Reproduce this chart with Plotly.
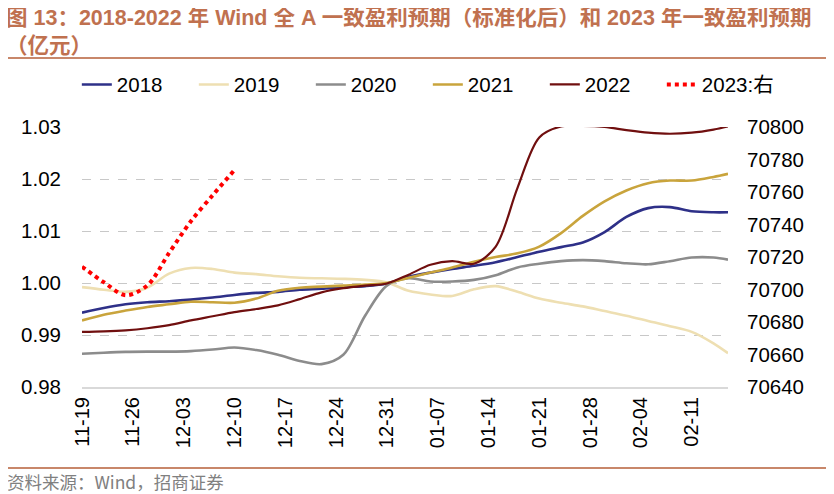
import plotly.graph_objects as go

# x positions are day offsets from 11-19 (one point every 3 days)
days = [0, 3, 6, 9, 12, 15, 18, 21, 24, 27, 30, 33, 36, 39, 42, 45, 48, 51, 54, 57,
        60, 63, 66, 69, 72, 75, 78, 81, 84, 87, 89]
tick_days = [0, 7, 14, 21, 28, 35, 42, 49, 56, 63, 70, 77, 84]
tick_labels = ["11-19", "11-26", "12-03", "12-10", "12-17", "12-24", "12-31",
               "01-07", "01-14", "01-21", "01-28", "02-04", "02-11"]

y2018 = [0.9943, 0.9952, 0.9959, 0.9963, 0.9965, 0.9968, 0.9972, 0.9977, 0.9981, 0.9983,
         0.9987, 0.9989, 0.9992, 0.9994, 0.9999, 1.0012, 1.0020, 1.0027, 1.0033, 1.0040,
         1.0050, 1.0060, 1.0069, 1.0078, 1.0098, 1.0127, 1.0144, 1.0146, 1.0138, 1.0136, 1.0136]
y2019 = [0.9992, 0.9987, 0.9983, 0.9991, 1.0018, 1.0029, 1.0027, 1.0020, 1.0017, 1.0013,
         1.0010, 1.0009, 1.0008, 1.0006, 1.0001, 0.9985, 0.9978, 0.9975, 0.9988, 0.9994,
         0.9983, 0.9970, 0.9962, 0.9955, 0.9946, 0.9937, 0.9927, 0.9917, 0.9906, 0.9884, 0.9865]
y2020 = [0.9864, 0.9866, 0.98675, 0.9868, 0.9868, 0.9869, 0.9872, 0.9876, 0.9871, 0.9862,
         0.9850, 0.9844, 0.9862, 0.9937, 0.9995, 1.0009, 1.0003, 1.0003, 1.0006, 1.0015,
         1.0030, 1.0037, 1.0042, 1.0044, 1.0042, 1.0038, 1.0036, 1.0042, 1.0049, 1.0049, 1.0045]
y2021 = [0.9928, 0.9939, 0.9947, 0.9954, 0.9959, 0.9964, 0.9963, 0.9962, 0.9970, 0.9985,
         0.9991, 0.9993, 0.9995, 0.9997, 1.0000, 1.0010, 1.0020, 1.0030, 1.0041, 1.0050,
         1.0057, 1.0070, 1.0096, 1.0129, 1.0157, 1.0178, 1.0192, 1.0197, 1.0197, 1.0204, 1.0210]
y2022 = [0.9906, 0.9907, 0.9909, 0.9913, 0.9919, 0.9928, 0.9936, 0.9944, 0.9950, 0.9957,
         0.9969, 0.9982, 0.9990, 0.9995, 0.9999, 1.0016, 1.0035, 1.0042, 1.0037, 1.0070,
         1.0183, 1.0280, 1.0301, 1.0302, 1.0300, 1.0294, 1.0289, 1.0287, 1.0289, 1.0295, 1.0301]

days2023 = [0, 3, 6, 9, 12, 15, 18, 21]
y2023 = [70714, 70704.5, 70696.5, 70702.5, 70722.5, 70742, 70758, 70773.5]

series = [
    ("2018", y2018, "#2E3088", 2.6),
    ("2019", y2019, "#EEDFB2", 2.6),
    ("2020", y2020, "#8C8C8C", 2.6),
    ("2021", y2021, "#C9A43C", 2.6),
    ("2022", y2022, "#700F0F", 2.2),
]

fig = go.Figure()
for name, ys, color, w in series:
    fig.add_trace(go.Scatter(x=days, y=ys, name=name, mode="lines",
                             line=dict(color=color, width=w, shape="spline", smoothing=0.9)))
fig.add_trace(go.Scatter(x=days2023, y=y2023, name="2023:右", mode="lines", yaxis="y2",
                         line=dict(color="#FF0000", width=4, dash="4px,4px",
                                   shape="spline", smoothing=0.9)))

title_color = "#C0714F"
rule_color = "#C8876A"
font_fam = "Liberation Sans, Arial, Noto Sans CJK SC, sans-serif"

fig.update_layout(
    width=826, height=486,
    margin=dict(l=74, r=106, t=119, b=107, autoexpand=False),
    paper_bgcolor="white", plot_bgcolor="white",
    font=dict(family=font_fam, color="#000000"),
    showlegend=True,
    legend=dict(orientation="h", x=-0.008, xanchor="left", y=1.163, yanchor="middle",
                font=dict(size=20.5, family=font_fam), entrywidth=72, entrywidthmode="pixels",
                bgcolor="rgba(0,0,0,0)"),
    xaxis=dict(range=[0, 89], tickmode="array", tickvals=tick_days, ticktext=tick_labels,
               tickangle=-90, tickfont=dict(size=20), showgrid=False, zeroline=False,
               showline=True, linecolor="#D9D9D9", linewidth=2, ticks=""),
    yaxis=dict(range=[0.98, 1.03], tickmode="array",
               tickvals=[0.98, 0.99, 1.00, 1.01, 1.02, 1.03],
               ticktext=["0.98", "0.99", "1.00", "1.01", "1.02", "1.03"],
               tickfont=dict(size=20.5), showgrid=True, gridcolor="#C8C8C8", griddash="dash",
               gridwidth=1, zeroline=False, showline=False, ticks="", ticklabelstandoff=20),
    yaxis2=dict(range=[70640, 70800], overlaying="y", side="right", dtick=20,
                tickfont=dict(size=20.5), showgrid=False, zeroline=False, showline=False,
                ticks="", tickformat="d", ticklabelstandoff=18),
    shapes=[
        dict(type="line", xref="paper", yref="paper", x0=-0.127, x1=1.164, y0=1.265, y1=1.265,
             line=dict(color=rule_color, width=2)),
        dict(type="line", xref="paper", yref="paper", x0=-0.127, x1=1.164, y0=-0.3115, y1=-0.3115,
             line=dict(color=rule_color, width=2)),
    ],
    annotations=[
        dict(text="<b>图 13：2018-2022 年 Wind 全 A 一致盈利预期（标准化后）和 2023 年一致盈利预期<br>（亿元）</b>",
             xref="paper", yref="paper", x=-0.121, y=1.474, xanchor="left", yanchor="top",
             align="left", showarrow=False,
             font=dict(size=21.5, color=title_color,
                       family="Liberation Sans, Noto Sans CJK SC, sans-serif")),
        dict(text="资料来源：Wind，招商证券", xref="paper", yref="paper", x=-0.119, y=-0.362,
             xanchor="left", yanchor="middle", showarrow=False,
             font=dict(size=17.5, color="#808080", family="Noto Sans CJK SC, sans-serif")),
    ],
)

fig.write_html("out.html")
